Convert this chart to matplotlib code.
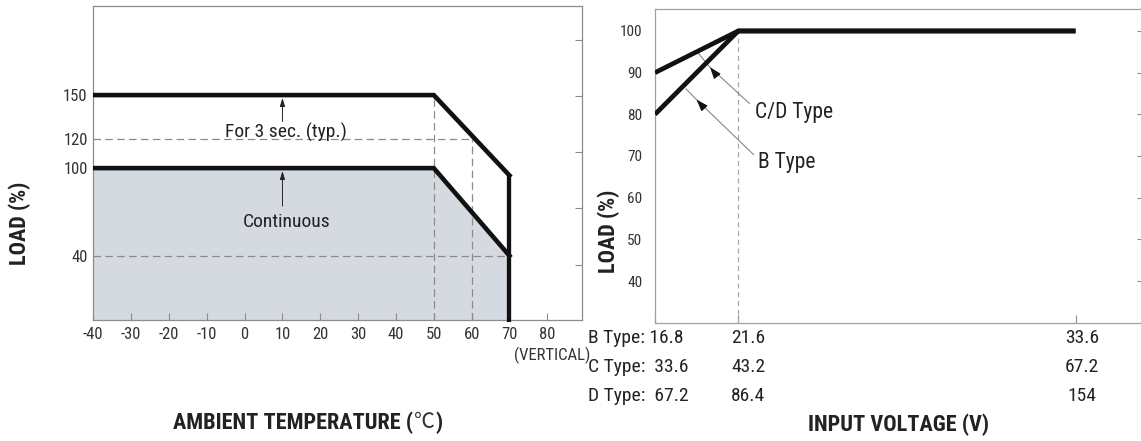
import numpy as np
import matplotlib
matplotlib.use("Agg")
import matplotlib.pyplot as plt
from matplotlib import font_manager
from matplotlib.text import Annotation

# ---------------- data ----------------
temp_ticks = [-40, -30, -20, -10, 0, 10, 20, 30, 40, 50, 60, 70, 80]
temp_pts = [-40, 50, 70]
peak_load = [150, 150, 95]       # "For 3 sec. (typ.)"
cont_load = [100, 100, 40]       # "Continuous"
left_yticks = [40, 100, 120, 150]

vin_b = [16.8, 21.6, 33.6]        # B type input voltage
vin_c = ["33.6", "43.2", "67.2"]  # C type labels
vin_d = ["67.2", "86.4", "154"]   # D type labels
load_b = [80, 100, 100]
load_cd = [90, 100, 100]
right_yticks = [40, 50, 60, 70, 80, 90, 100]

# ---------------- fonts ----------------
W, H = 1141, 441
_fl = font_manager.fontManager.ttflist
CANDS = ["Liberation Sans Narrow", "Arial Narrow", "Roboto Condensed", "PT Sans Narrow",
         "Archivo Narrow", "Liberation Sans"]


def pick(bold):
    for c in CANDS:
        for f in _fl:
            if f.name == c and f.style == "normal":
                w = f.weight if isinstance(f.weight, int) else 400
                if (bold and w >= 600) or (not bold and 350 <= w <= 450):
                    return c
    return "DejaVu Sans"


REG = pick(False)
BLD = pick(True)
plt.rcParams["font.family"] = [REG, "DejaVu Sans"]
TXT = "#222222"
SPINE = "#8c8c8c"
FILL = "#d5dae1"

fig = plt.figure(figsize=(W / 100, H / 100), dpi=100)
fig.patch.set_facecolor("white")


def ax_rect(l, r, t, b):
    return [l / W, 1 - b / H, (r - l) / W, (b - t) / H]


# ================= LEFT CHART =================
ax1 = fig.add_axes(ax_rect(93.3, 581.7, 6, 320))
ax1.set_xlim(-40, 89.1)
ax1.set_ylim(-4, 211)
ymin = ax1.get_ylim()[0]

ax1.fill_between(temp_pts, cont_load, ymin, color=FILL, lw=0, zorder=1)
dash = dict(color="#8a8a8a", lw=0.9, ls=(0, (6, 3.5)), zorder=2)
ax1.plot([temp_pts[0], 60], [120, 120], **dash)
ax1.plot([temp_pts[0], temp_pts[2]], [cont_load[2], cont_load[2]], **dash)
ax1.plot([temp_pts[1], temp_pts[1]], [ymin, peak_load[1]], **dash)
ax1.plot([60, 60], [ymin, 120], **dash)

ax1.plot(temp_pts, peak_load, color="#111111", lw=3.3, solid_joinstyle="miter", zorder=4)
ax1.plot(temp_pts, cont_load, color="#111111", lw=3.3, solid_joinstyle="miter", zorder=4)
ax1.plot([temp_pts[2], temp_pts[2]], [ymin - 1.5, peak_load[2]], color="#111111", lw=3.1,
         zorder=5, clip_on=False, solid_capstyle="butt")

arr = dict(arrowstyle="-|>,head_length=0.5,head_width=0.15", color="#222222", lw=0.7,
           shrinkA=0, shrinkB=2)
ax1.annotate("", xy=(10, 150), xytext=(10, 132), arrowprops=arr, zorder=3)
ax1.annotate("", xy=(10, 100), xytext=(10, 74), arrowprops=arr, zorder=3)
ax1.text(10.8, 124.5, "For 3 sec. (typ.)", ha="center", va="center", fontsize=14, color=TXT)
ax1.text(11, 63, "Continuous", ha="center", va="center", fontsize=14, color=TXT)

ax1.set_xticks(temp_ticks)
ax1.set_xticklabels([str(t) for t in temp_ticks], fontsize=12, color="#333333")
ax1.set_yticks(left_yticks)
ax1.set_yticklabels([str(t) for t in left_yticks], fontsize=12, color="#333333")
ax1.tick_params(axis="x", direction="in", length=5, width=0.8, color=SPINE, pad=5)
ax1.tick_params(axis="y", direction="in", length=0, pad=4)
for s in ax1.spines.values():
    s.set_color(SPINE)
    s.set_linewidth(0.9)
ax1r = ax1.twinx()
ax1r.set_ylim(ax1.get_ylim())
ax1r.set_yticks([34, 72.6, 111, 149.5, 188])
ax1r.set_yticklabels([])
ax1r.tick_params(axis="y", direction="in", length=5, width=0.8, color=SPINE)
for s in ax1r.spines.values():
    s.set_visible(False)

ax1.annotate("(VERTICAL)", xy=(81.2, 0), xycoords=ax1.get_xaxis_transform(),
             xytext=(0, -35), textcoords="offset pixels", ha="center", va="center",
             fontsize=12, color="#333333", annotation_clip=False)

# ================= RIGHT CHART =================
V0, BRK = vin_b[0], vin_b[1]
S1, S2 = 17.36, 28.14  # pixel per volt in the two segments of the drawn axis
U_BRK = (BRK - V0) * S1


def fwd(v):
    v = np.asarray(v, dtype=float)
    return np.where(v <= BRK, (v - V0) * S1, U_BRK + (v - BRK) * S2)


def inv(u):
    u = np.asarray(u, dtype=float)
    return np.where(u <= U_BRK, V0 + u / S1, BRK + (u - U_BRK) / S2)


ax2 = fig.add_axes(ax_rect(655, 1143, 9.3, 322.7))
ax2.set_xscale("function", functions=(fwd, inv))
ax2.set_xlim(16.8, 36.0)
ax2.set_ylim(30, 105.2)

ax2.plot([BRK, BRK], [30, 100], color="#a8a8a8", lw=0.9, ls=(0, (4, 3)), zorder=2)
ax2.plot(vin_b, load_cd, color="#111111", lw=3.4, solid_capstyle="butt", zorder=4)
ax2.plot(vin_b, load_b, color="#111111", lw=3.4, solid_capstyle="butt", zorder=4)

thin = dict(color="#888888", lw=0.8)
head = dict(arrowstyle="-|>,head_length=0.7,head_width=0.25", color="#111111", lw=0.8,
            shrinkA=0, shrinkB=0)
ax2.annotate("", xy=(19.97, 91.3), xytext=(22.0, 82.6),
             arrowprops=dict(arrowstyle="-", shrinkA=0, shrinkB=0, **thin))
ax2.annotate("", xy=(19.97, 91.3), xytext=(20.3, 89.6), arrowprops=head)
ax2.plot([19.97, 19.29], [91.3, 94.7], **thin)
ax2.annotate("", xy=(19.2, 83.5), xytext=(22.15, 70.3),
             arrowprops=dict(arrowstyle="-", shrinkA=0, shrinkB=0, **thin))
ax2.annotate("", xy=(19.2, 83.5), xytext=(19.55, 81.9), arrowprops=head)
ax2.plot([19.2, 18.59], [83.5, 86.1], **thin)

ax2.text(22.2, 80.5, "C/D Type", ha="left", va="center", fontsize=15.5, color=TXT)
ax2.text(22.3, 68.4, "B Type", ha="left", va="center", fontsize=15.5, color=TXT)

ax2.set_yticks(right_yticks)
ax2.set_yticklabels([str(t) for t in right_yticks], fontsize=11, color="#333333")
ax2.tick_params(axis="y", direction="in", length=0, pad=9, right=True, labelright=False)
ax2.set_xticks(vin_b)
ax2.set_xticklabels([])
ax2.tick_params(axis="x", direction="in", length=6, width=0.8, color=SPINE)
for s in ax2.spines.values():
    s.set_color("#a0a0a0")
    s.set_linewidth(0.9)
ax2r = ax2.twinx()
ax2r.set_ylim(ax2.get_ylim())
ax2r.set_yticks(right_yticks)
ax2r.set_yticklabels([])
ax2r.tick_params(axis="y", direction="in", length=4, width=0.8, color=SPINE)
for s in ax2r.spines.values():
    s.set_visible(False)

xt = ax2.get_xaxis_transform()
row_dy = [-15.3, -44.5, -73.3]
rows = [("B Type: ", [f"{v:g}" for v in vin_b]),
        ("C Type:  ", vin_c),
        ("D Type:  ", vin_d)]
col_dx = [None, 10, 6.5]
for (name, vals), dy in zip(rows, row_dy):
    ax2.annotate(name + vals[0], xy=(vin_b[0], 0), xycoords=xt, xytext=(-67, dy),
                 textcoords="offset pixels", ha="left", va="center", fontsize=14,
                 color=TXT, annotation_clip=False)
    for k in (1, 2):
        ax2.annotate(vals[k], xy=(vin_b[k], 0), xycoords=xt, xytext=(col_dx[k], dy),
                     textcoords="offset pixels", ha="center", va="center", fontsize=14,
                     color=TXT, annotation_clip=False)

# ---------------- axis titles ----------------
bold = dict(fontsize=16, fontweight="bold", color=TXT, family=[BLD, "DejaVu Sans"])
fig.text(20 / W, 1 - 223 / H, "LOAD (%)", rotation=90, ha="center", va="center", **bold)
fig.text(609 / W, 1 - 231 / H, "LOAD (%)", rotation=90, ha="center", va="center", **bold)
t1 = fig.text(173 / W, 1 - 423 / H, "AMBIENT TEMPERATURE (", ha="left", va="center", **bold)
ann2 = fig.add_artist(Annotation(
    "℃", xy=(1, 0.5), xycoords=t1, xytext=(1, 1), textcoords="offset pixels",
    ha="left", va="center", fontsize=15, color="#333333",
    family=["Noto Sans CJK SC", "DejaVu Sans"], fontweight="light"))
fig.add_artist(Annotation(
    ")", xy=(1, 0.5), xycoords=ann2, xytext=(1, -1), textcoords="offset pixels",
    ha="left", va="center", **bold))
fig.text(898 / W, 1 - 425 / H, "INPUT VOLTAGE (V)", ha="center", va="center", **bold)

fig.savefig("out.png", dpi=100, facecolor="white")
